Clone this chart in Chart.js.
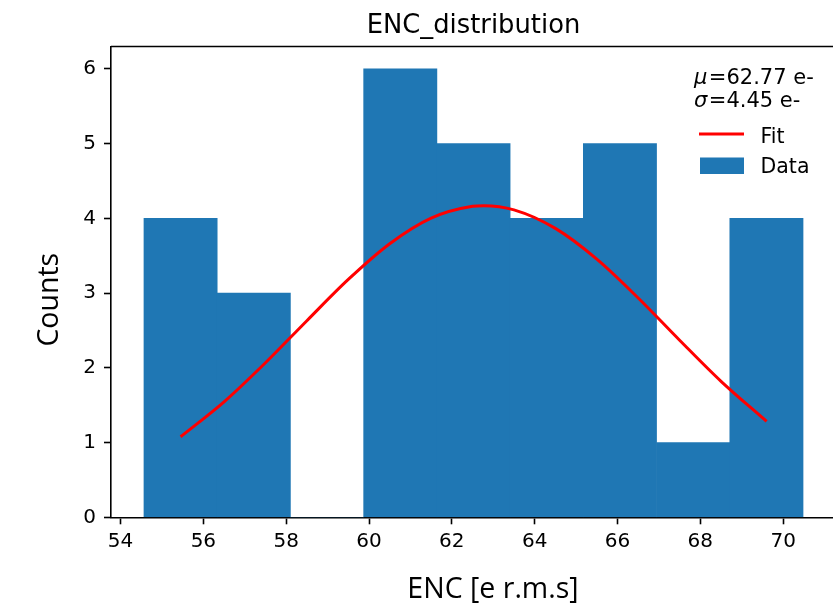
<!DOCTYPE html>
<html>
<head>
<meta charset="utf-8">
<script src="https://cdn.jsdelivr.net/npm/chart.js@4/dist/chart.umd.min.js"></script>
<style>
  html, body { margin: 0; padding: 0; background: #fff; }
  #wrap { width: 833px; height: 606px; overflow: hidden; position: relative; }
  canvas { display: block; }
</style>
</head>
<body>
<div id="wrap"><canvas id="c" width="840" height="606"></canvas></div>
<script>
// ---- data ----
const binCenters = [55.450, 57.218, 58.987, 60.755, 62.523, 64.291, 66.059, 67.828, 69.596];
const binCounts  = [4, 3, 0, 6, 5, 4, 5, 1, 4];
const fitX = [55.45, 56.5, 57.5, 58.5, 59.5, 60.5, 61.5, 62.5, 62.77, 63.5, 64.5, 65.5, 66.5, 67.5, 68.5, 69.6];
const fitY = [1.078, 1.545, 2.068, 2.631, 3.183, 3.661, 4.004, 4.162, 4.170, 4.114, 3.866, 3.455, 2.935, 2.370, 1.820, 1.284];
const xTicks = [54, 56, 58, 60, 62, 64, 66, 68, 70];
const yTicks = [0, 1, 2, 3, 4, 5, 6];
const titleText = 'ENC_distribution';
const xLabel = 'ENC [e r.m.s]';
const yLabel = 'Counts';
const muText = '=62.77 e-';
const sigmaText = '=4.45 e-';
const legendLabels = ['Fit', 'Data'];

const BLUE = '#1f77b4';
const RED = '#ff0000';

const textPlugin = {
  id: 'texts',
  afterDraw(chart) {
    const ctx = chart.ctx;
    const a = chart.chartArea;
    ctx.save();
    // top & right spines
    ctx.strokeStyle = '#000';
    ctx.lineWidth = 1.6;
    ctx.beginPath();
    ctx.moveTo(a.left, a.top);
    ctx.lineTo(a.right, a.top);
    ctx.lineTo(a.right, a.bottom);
    ctx.stroke();

    ctx.fillStyle = '#000';
    // title
    ctx.font = '25.8px "DejaVu Sans"';
    ctx.textAlign = 'center';
    ctx.textBaseline = 'alphabetic';
    ctx.fillText(titleText, (a.left + a.right) / 2, 33.3);

    // x label
    ctx.font = '28.5px "Open Sans"';
    ctx.fillText(xLabel, 493, 598.3);

    // y label
    ctx.save();
    ctx.translate(58.3, 299.7);
    ctx.rotate(-Math.PI / 2);
    ctx.fillText(yLabel, 0, 0);
    ctx.restore();

    // legend
    ctx.textAlign = 'left';
    const lx = 694;
    const lf = '20.5px "DejaVu Sans"';
    ctx.font = 'italic 21px "DejaVu Sans"';
    ctx.fillText('\u03bc', lx, 84.3);
    let w = ctx.measureText('\u03bc').width;
    ctx.font = '21px "DejaVu Sans"';
    ctx.fillText(muText, lx + w + 1.5, 84.3);
    ctx.font = 'italic 21px "DejaVu Sans"';
    ctx.fillText('\u03c3', lx, 107.3);
    w = ctx.measureText('\u03c3').width;
    ctx.font = '21px "DejaVu Sans"';
    ctx.fillText(sigmaText, lx + w + 1.5, 107.3);

    ctx.font = lf;
    ctx.strokeStyle = RED;
    ctx.lineWidth = 3;
    ctx.beginPath();
    ctx.moveTo(699, 134);
    ctx.lineTo(744, 134);
    ctx.stroke();
    ctx.fillText(legendLabels[0], 760.5, 142.7);

    ctx.fillStyle = BLUE;
    ctx.fillRect(700, 157.5, 44, 16.5);
    ctx.fillStyle = '#000';
    ctx.fillText(legendLabels[1], 760.5, 172.7);
    ctx.restore();
  }
};

new Chart(document.getElementById('c'), {
  data: {
    datasets: [
      {
        type: 'line',
        label: 'Fit',
        data: fitX.map((x, i) => ({ x: x, y: fitY[i] })),
        borderColor: RED,
        borderWidth: 3,
        pointRadius: 0,
        cubicInterpolationMode: 'monotone',
        fill: false,
        order: 0
      },
      {
        type: 'bar',
        label: 'Data',
        data: binCenters.map((x, i) => ({ x: x, y: binCounts[i] })),
        backgroundColor: BLUE,
        borderWidth: 0,
        barPercentage: 1.0,
        categoryPercentage: 1.0,
        order: 1
      }
    ]
  },
  options: {
    responsive: false,
    animation: false,
    devicePixelRatio: 1,
    layout: { padding: { top: 46.5, right: 4, left: 0, bottom: 0 } },
    plugins: { legend: { display: false }, tooltip: { enabled: false }, title: { display: false } },
    scales: {
      x: {
        type: 'linear',
        offset: false,
        min: 53.770,
        max: 71.276,
        afterBuildTicks: (s) => { s.ticks = xTicks.map(v => ({ value: v })); },
        afterFit: (s) => { s.height = 88.7; },
        ticks: { color: '#000', font: { family: 'DejaVu Sans', size: 20 }, padding: 5, maxRotation: 0, autoSkip: false,
                 callback: (v) => String(v) },
        grid: { display: true, offset: false, drawOnChartArea: false, drawTicks: true, tickLength: 7, tickWidth: 1.6, tickColor: '#000' },
        border: { display: true, color: '#000', width: 1.6 }
      },
      y: {
        type: 'linear',
        min: 0,
        max: 6.3,
        afterBuildTicks: (s) => { s.ticks = yTicks.map(v => ({ value: v })); },
        afterFit: (s) => { s.width = 111; },
        ticks: { color: '#000', font: { family: 'DejaVu Sans', size: 20 }, padding: 8, autoSkip: false,
                 callback: (v) => String(v) },
        grid: { display: true, drawOnChartArea: false, drawTicks: true, tickLength: 7, tickWidth: 1.6, tickColor: '#000' },
        border: { display: true, color: '#000', width: 1.6 }
      }
    }
  },
  plugins: [textPlugin]
});
</script>
</body>
</html>
